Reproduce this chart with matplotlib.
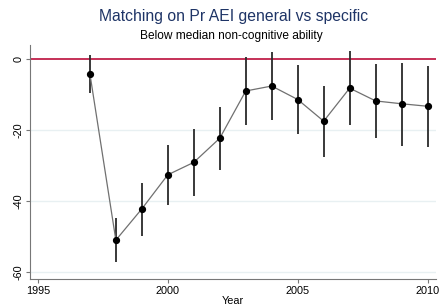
import numpy as np
import matplotlib
matplotlib.use("Agg")
import matplotlib.pyplot as plt

plt.rcParams['font.family'] = ['Liberation Sans', 'DejaVu Sans']

years = [1997, 1998, 1999, 2000, 2001, 2002, 2003, 2004, 2005, 2006, 2007, 2008, 2009, 2010]
estimate = [-4.2, -51.1, -42.3, -32.7, -29.2, -22.4, -9.1, -7.7, -11.5, -17.6, -8.3, -11.9, -12.7, -13.4]
ci_upper = [1.0, -45.0, -34.9, -24.3, -19.9, -13.7, 0.6, 1.8, -1.9, -7.8, 2.1, -1.6, -1.2, -2.1]
ci_lower = [-9.6, -57.2, -49.9, -41.1, -38.6, -31.4, -18.7, -17.3, -21.3, -27.8, -18.8, -22.4, -24.6, -24.8]

fig = plt.figure(figsize=(4.43, 3.08), dpi=100)
ax = fig.add_axes([0.068, 0.094, 0.916, 0.760])

# faint grid lines
for g in [-20, -40, -60]:
    ax.axhline(g, color='#e8f0f2', lw=1.0, zorder=0)

ax.axhline(0, color='#c0204a', lw=1.3, zorder=1)

ax.vlines(years, ci_lower, ci_upper, color='#2a2a2a', lw=1.3, zorder=2)
ax.plot(years, estimate, color='#707070', lw=0.9, zorder=3)
ax.plot(years, estimate, 'o', color='black', ms=4.2, zorder=4)

ax.set_xlim(1994.7, 2010.32)
ax.set_ylim(-62.06, 3.86)
ax.set_xticks([1995, 2000, 2005, 2010])
ax.set_yticks([0, -20, -40, -60])
ax.set_yticklabels(['0', '-20', '-40', '-60'], rotation=90, va='center')
ax.tick_params(axis='both', labelsize=7.8, color='#777777', length=3, width=0.8, pad=2)

for side in ['top', 'right']:
    ax.spines[side].set_visible(False)
for side in ['left', 'bottom']:
    ax.spines[side].set_color('#777777')
    ax.spines[side].set_linewidth(0.8)

ax.set_xlabel('Year', fontsize=7.8, labelpad=0)

fig.text(0.527, 0.945, 'Matching on Pr AEI general vs specific', ha='center', va='center',
         fontsize=11.3, color='#1e3466')
fig.text(0.522, 0.882, 'Below median non-cognitive ability', ha='center', va='center',
         fontsize=8.6, color='black')

fig.savefig('out.png', dpi=100)
